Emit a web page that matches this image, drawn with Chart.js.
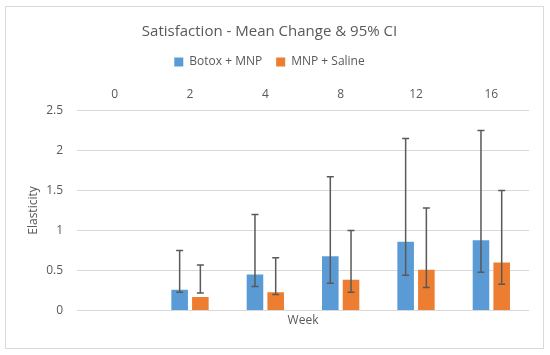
<!DOCTYPE html>
<html>
<head>
<meta charset="utf-8">
<script src="https://cdn.jsdelivr.net/npm/chart.js@4.4.0/dist/chart.umd.min.js"></script>
<style>
html, body { margin: 0; padding: 0; background: #fff; }
#wrap { position: relative; width: 550px; height: 355px; }
#frame { position: absolute; left: 5px; top: 6px; width: 539px; height: 343px; border: 1px solid #d9d9d9; box-sizing: border-box; }
canvas { position: absolute; left: 0; top: 0; }
</style>
</head>
<body>
<div id="wrap">
  <div id="frame"></div>
  <canvas id="c" width="550" height="355"></canvas>
</div>
<script>
const weeks = ["0", "2", "4", "8", "12", "16"];
const botoxMean = [null, 0.26, 0.45, 0.68, 0.86, 0.88];
const botoxLow = [null, 0.23, 0.30, 0.34, 0.44, 0.48];
const botoxHigh = [null, 0.75, 1.20, 1.67, 2.15, 2.25];
const salineMean = [null, 0.17, 0.23, 0.385, 0.51, 0.60];
const salineLow = [null, 0.22, 0.20, 0.23, 0.29, 0.33];
const salineHigh = [null, 0.57, 0.66, 1.00, 1.28, 1.50];

const grey = "#595959";

// error bars drawn from the low/high arrays on the y scale
const errorBars = {
    id: "errorBars",
    afterDatasetsDraw(chart) {
        const ctx = chart.ctx;
        const y = chart.scales.y;
        chart.data.datasets.forEach((ds, i) => {
            const meta = chart.getDatasetMeta(i);
            meta.data.forEach((bar, j) => {
                if (ds.low[j] == null) return;
                const x = bar.x;
                const top = y.getPixelForValue(ds.high[j]);
                const bot = y.getPixelForValue(ds.low[j]);
                ctx.save();
                ctx.strokeStyle = grey;
                ctx.lineWidth = 1.5;
                ctx.beginPath();
                ctx.moveTo(x, top);
                ctx.lineTo(x, bot);
                ctx.moveTo(x - 3.5, top);
                ctx.lineTo(x + 3.5, top);
                ctx.moveTo(x - 3.5, bot);
                ctx.lineTo(x + 3.5, bot);
                ctx.stroke();
                ctx.restore();
            });
        });
    }
};

Chart.defaults.font.family = "'Open Sans', sans-serif";
Chart.defaults.color = grey;

new Chart(document.getElementById("c"), {
    type: "bar",
    data: {
        labels: weeks,
        datasets: [
            {
                label: "Botox + MNP",
                data: botoxMean,
                low: botoxLow,
                high: botoxHigh,
                backgroundColor: "#5B9BD5",
                categoryPercentage: 0.55,
                barPercentage: 0.8
            },
            {
                label: "MNP + Saline",
                data: salineMean,
                low: salineLow,
                high: salineHigh,
                backgroundColor: "#ED7D31",
                categoryPercentage: 0.55,
                barPercentage: 0.8
            }
        ]
    },
    options: {
        responsive: false,
        animation: false,
        layout: { padding: { top: 23, left: 10, right: 21, bottom: 27 } },
        plugins: {
            title: {
                display: true,
                text: "Satisfaction - Mean Change & 95% CI",
                font: { size: 15, weight: "normal" },
                color: grey,
                padding: { top: 0, bottom: 1 }
            },
            legend: {
                labels: {
                    boxWidth: 9,
                    boxHeight: 9,
                    font: { size: 12 },
                    padding: 14
                }
            },
            tooltip: { enabled: false }
        },
        scales: {
            x: {
                position: "top",
                grid: { display: false, drawTicks: false },
                border: { display: false },
                ticks: { font: { size: 12 }, padding: 9 }
            },
            x2: {
                position: "bottom",
                type: "category",
                labels: weeks,
                grid: { display: false, drawTicks: false },
                border: { display: false },
                ticks: { display: false },
                title: { display: true, text: "Week", font: { size: 12 }, padding: { top: 3, bottom: 0 } }
            },
            y: {
                min: 0,
                max: 2.5,
                grid: { color: "#d9d9d9", drawTicks: false },
                border: { display: false },
                ticks: {
                    stepSize: 0.5,
                    font: { size: 12 },
                    padding: 14,
                    callback: v => String(v)
                },
                title: { display: true, text: "Elasticity", font: { size: 12 }, padding: { top: 16, bottom: 0 } },
                afterFit(scale) { scale.width = 67; }
            }
        }
    },
    plugins: [errorBars]
});
</script>
</body>
</html>
